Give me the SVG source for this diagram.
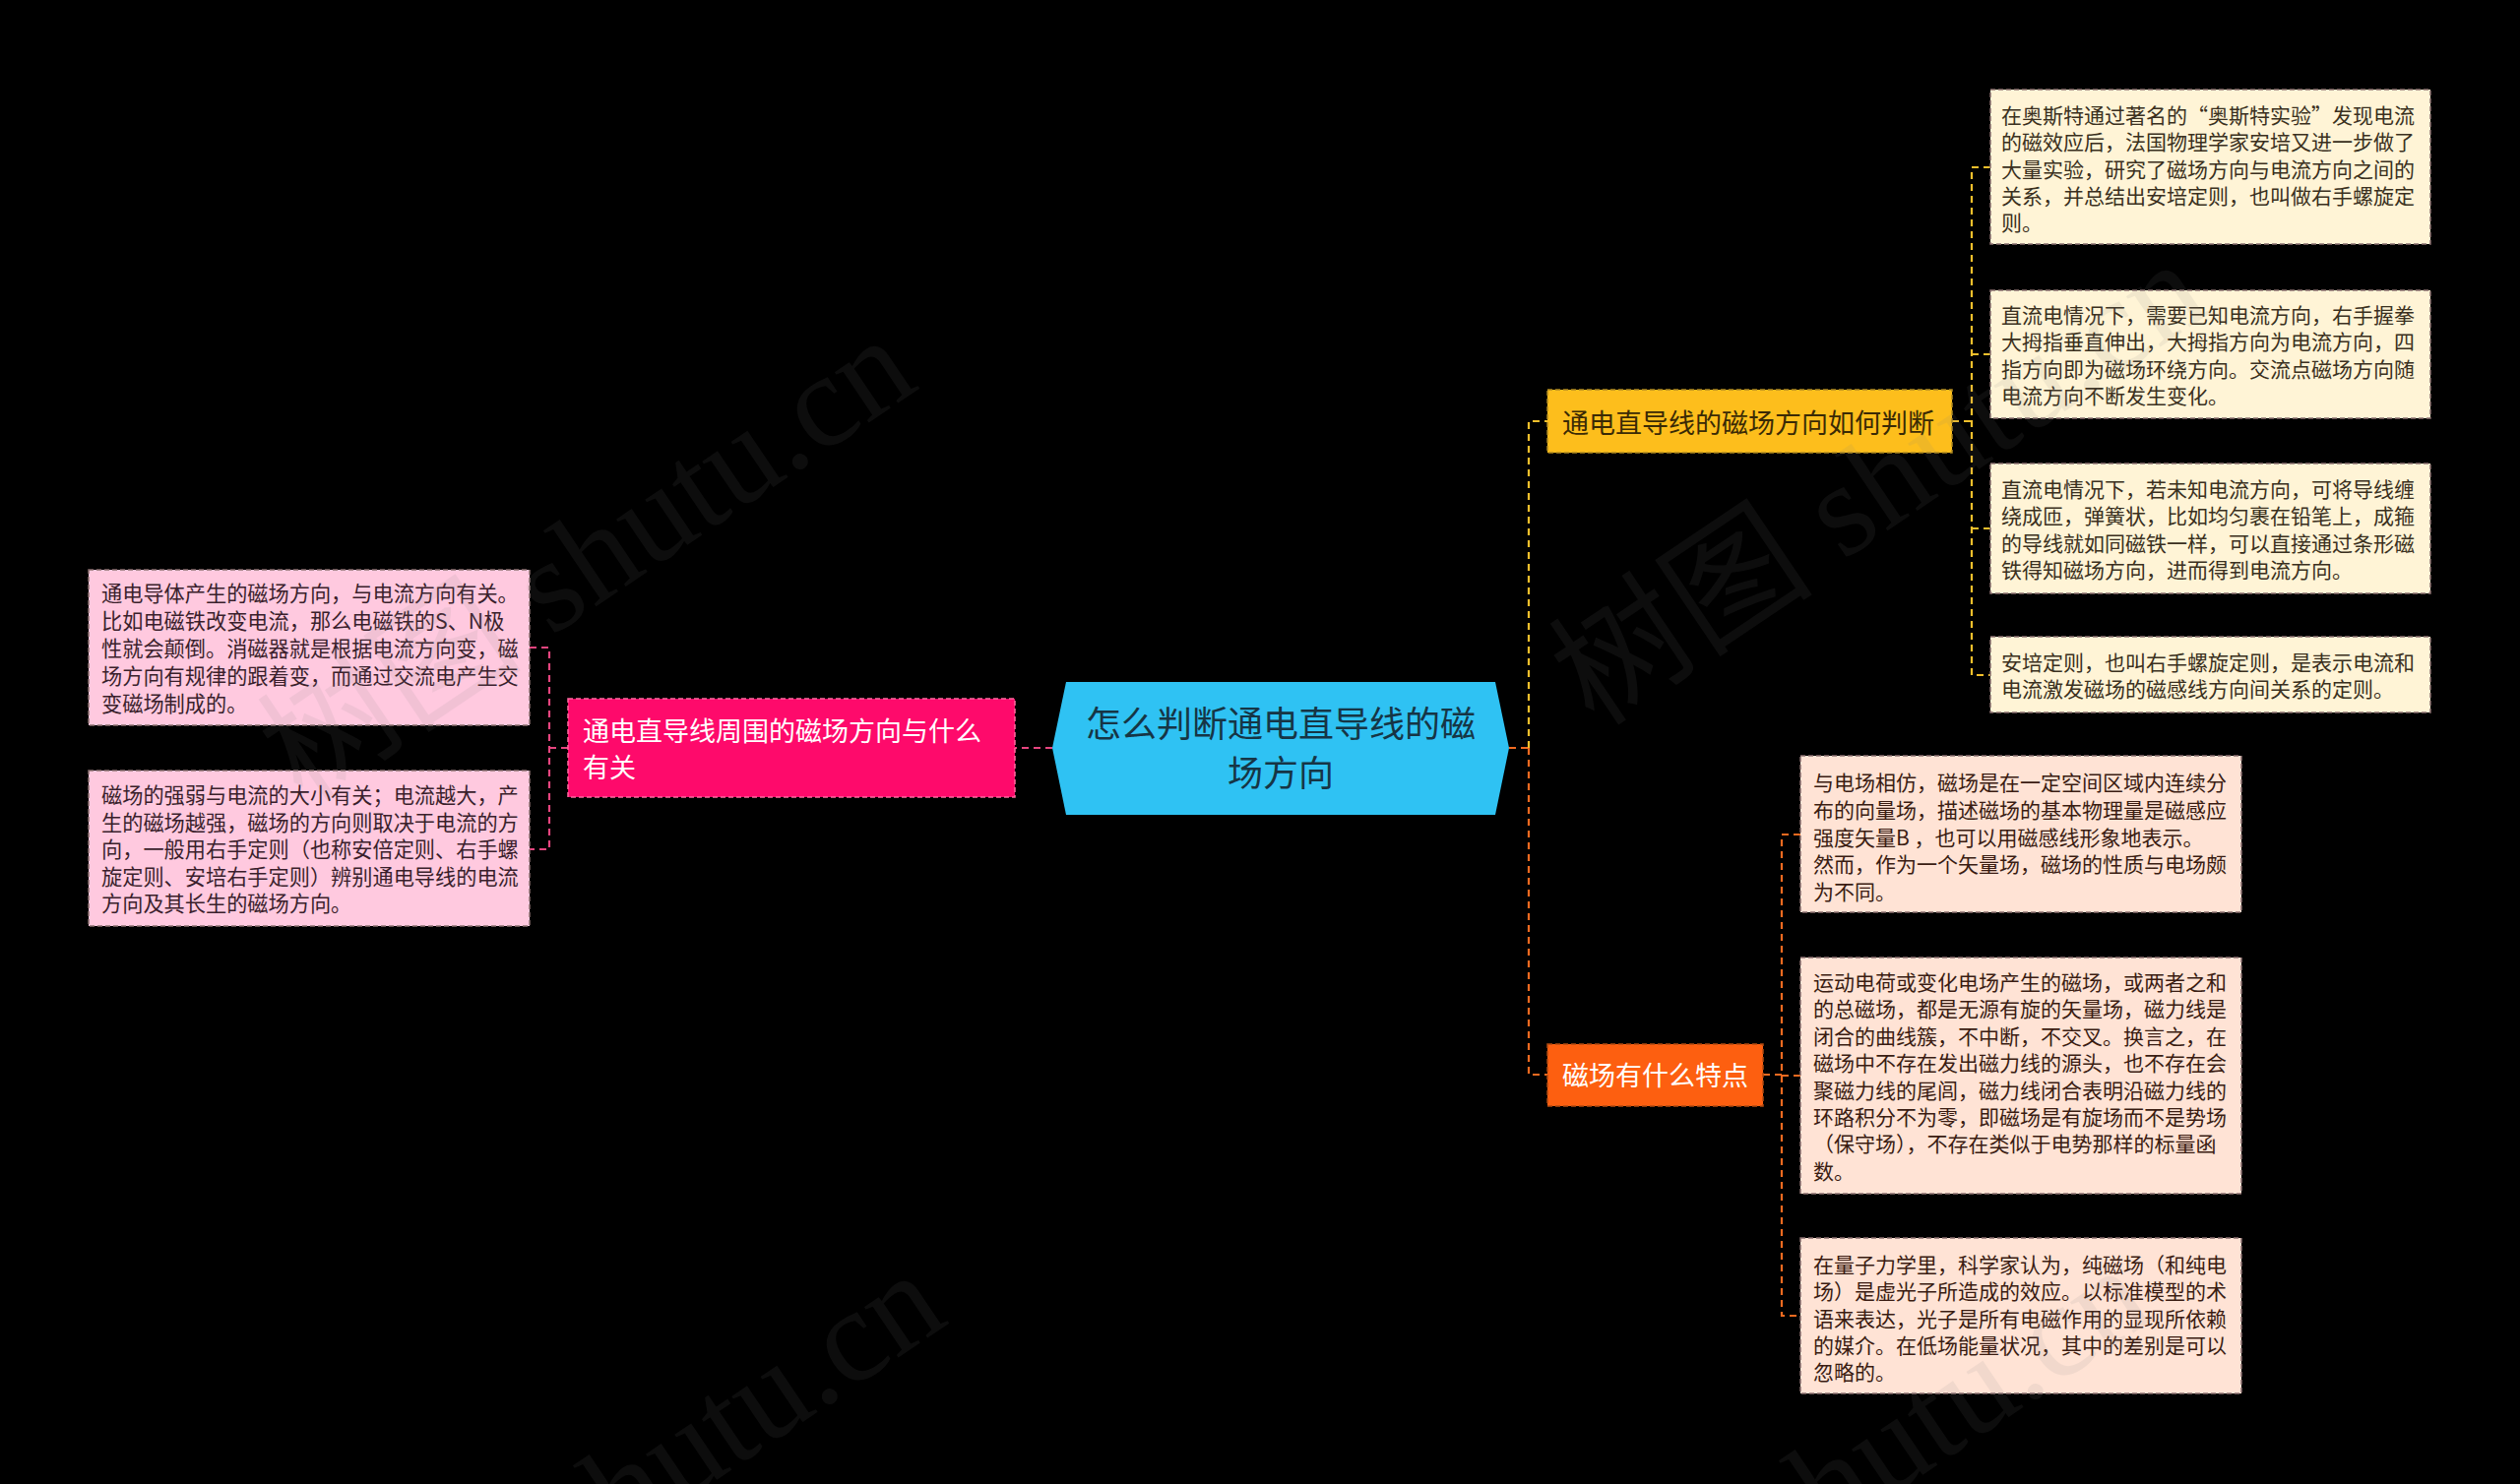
<svg xmlns="http://www.w3.org/2000/svg" width="2560" height="1508" viewBox="0 0 2560 1508">
<style>
.t{font-family:"Noto Sans CJK SC","Noto Sans",sans-serif;}
.leafL{font-size:21.2px;fill:#3a1f2c;}
.leafY{font-size:21px;fill:#3a3020;}
.leafP{font-size:21px;fill:#3a1c12;}
.br{font-size:27px;}
.c{fill:none;stroke-width:2.2;stroke-dasharray:7 5;}
.cp{stroke:#e6457f;}
.cy{stroke:#f4c02c;}
.co{stroke:#f06a20;}
.lb{stroke:#8a7070;stroke-width:1.5;stroke-dasharray:5 3;}
.wm{font-family:"Liberation Serif","Noto Sans CJK SC",serif;font-size:135px;fill:#808080;opacity:0.1;}
</style>
<rect x="0" y="0" width="2560" height="1508" fill="#000"/>
<g id="connectors">
<path class="c cp" d="M1069,760 H1031"/>
<path class="c cp" d="M577,760 H558 M538,658 H558 V863 H538"/>
<path class="c co" d="M1533,760 H1553"/>
<path class="c cy" d="M1553,760 V428 H1572"/>
<path class="c co" d="M1553,760 V1092 H1572"/>
<path class="c cy" d="M1983,428 H2003 M2022,170 H2003 V686 H2022 M2003,360 H2022 M2003,537 H2022"/>
<path class="c co" d="M1791,1092 H1810 M1829,848 H1810 V1337 H1829 M1810,1093 H1829"/>
</g>
<g id="root">
<polygon points="1069,760 1083,693 1519,693 1533,760 1519,828 1083,828" fill="#2fc2f3"/>
<text class="t" x="1301" y="749" font-size="36" fill="#163545" text-anchor="middle">怎么判断通电直导线的磁</text>
<text class="t" x="1301" y="799" font-size="36" fill="#163545" text-anchor="middle">场方向</text>
</g>
<g id="branch-left">
<rect x="577" y="710" width="454" height="100" fill="#fe0a6b" stroke="#ff6aa0" stroke-width="1.5" stroke-dasharray="5 3"/>
<text class="t br" x="592" y="753" fill="#fff">通电直导线周围的磁场方向与什么</text>
<text class="t br" x="592" y="790" fill="#fff">有关</text>
</g>
<g id="leaf-l1">
<rect x="90" y="579" width="448" height="158" fill="#ffc9df" class="lb"/>
<text class="t leafL" x="103" y="611">通电导体产生的磁场方向，与电流方向有关。</text>
<text class="t leafL" x="103" y="639">比如电磁铁改变电流，那么电磁铁的S、N极</text>
<text class="t leafL" x="103" y="667">性就会颠倒。消磁器就是根据电流方向变，磁</text>
<text class="t leafL" x="103" y="695">场方向有规律的跟着变，而通过交流电产生交</text>
<text class="t leafL" x="103" y="723">变磁场制成的。</text>
</g>
<g id="leaf-l2">
<rect x="90" y="783" width="448" height="158" fill="#ffc9df" class="lb"/>
<text class="t leafL" x="103" y="816">磁场的强弱与电流的大小有关；电流越大，产</text>
<text class="t leafL" x="103" y="843.5">生的磁场越强，磁场的方向则取决于电流的方</text>
<text class="t leafL" x="103" y="871">向，一般用右手定则（也称安倍定则、右手螺</text>
<text class="t leafL" x="103" y="898.5">旋定则、安培右手定则）辨别通电导线的电流</text>
<text class="t leafL" x="103" y="926">方向及其长生的磁场方向。</text>
</g>
<g id="branch-yellow">
<rect x="1572" y="396" width="411" height="64" fill="#fdbe1c" stroke="#b08a20" stroke-width="1.5" stroke-dasharray="5 3"/>
<text class="t br" x="1587" y="440" fill="#3a2a05">通电直导线的磁场方向如何判断</text>
</g>
<g id="leaf-y1">
<rect x="2022" y="91" width="447" height="157" fill="#fff4d6" class="lb"/>
<text class="t leafY" x="2033" y="125">在奥斯特通过著名的“奥斯特实验”发现电流</text>
<text class="t leafY" x="2033" y="152.3">的磁效应后，法国物理学家安培又进一步做了</text>
<text class="t leafY" x="2033" y="179.6">大量实验，研究了磁场方向与电流方向之间的</text>
<text class="t leafY" x="2033" y="206.9">关系，并总结出安培定则，也叫做右手螺旋定</text>
<text class="t leafY" x="2033" y="234.2">则。</text>
</g>
<g id="leaf-y2">
<rect x="2022" y="295" width="447" height="130" fill="#fff4d6" class="lb"/>
<text class="t leafY" x="2033" y="328">直流电情况下，需要已知电流方向，右手握拳</text>
<text class="t leafY" x="2033" y="355.3">大拇指垂直伸出，大拇指方向为电流方向，四</text>
<text class="t leafY" x="2033" y="382.6">指方向即为磁场环绕方向。交流点磁场方向随</text>
<text class="t leafY" x="2033" y="410">电流方向不断发生变化。</text>
</g>
<g id="leaf-y3">
<rect x="2022" y="471" width="447" height="132" fill="#fff4d6" class="lb"/>
<text class="t leafY" x="2033" y="505">直流电情况下，若未知电流方向，可将导线缠</text>
<text class="t leafY" x="2033" y="532.3">绕成匝，弹簧状，比如均匀裹在铅笔上，成箍</text>
<text class="t leafY" x="2033" y="559.6">的导线就如同磁铁一样，可以直接通过条形磁</text>
<text class="t leafY" x="2033" y="587">铁得知磁场方向，进而得到电流方向。</text>
</g>
<g id="leaf-y4">
<rect x="2022" y="647" width="447" height="77" fill="#fff4d6" class="lb"/>
<text class="t leafY" x="2033" y="681">安培定则，也叫右手螺旋定则，是表示电流和</text>
<text class="t leafY" x="2033" y="708.3">电流激发磁场的磁感线方向间关系的定则。</text>
</g>
<g id="branch-orange">
<rect x="1572" y="1061" width="219" height="63" fill="#fd5f10" stroke="#b04a10" stroke-width="1.5" stroke-dasharray="5 3"/>
<text class="t br" x="1587" y="1103" fill="#fff">磁场有什么特点</text>
</g>
<g id="leaf-o1">
<rect x="1829" y="768" width="448" height="159" fill="#ffe3d5" class="lb"/>
<text class="t leafP" x="1842" y="803">与电场相仿，磁场是在一定空间区域内连续分</text>
<text class="t leafP" x="1842" y="830.8">布的向量场，描述磁场的基本物理量是磁感应</text>
<text class="t leafP" x="1842" y="858.6">强度矢量B ，也可以用磁感线形象地表示。</text>
<text class="t leafP" x="1842" y="886.4">然而，作为一个矢量场，磁场的性质与电场颇</text>
<text class="t leafP" x="1842" y="914.2">为不同。</text>
</g>
<g id="leaf-o2">
<rect x="1829" y="973" width="448" height="240" fill="#ffe3d5" class="lb"/>
<text class="t leafP" x="1842" y="1006">运动电荷或变化电场产生的磁场，或两者之和</text>
<text class="t leafP" x="1842" y="1033.4">的总磁场，都是无源有旋的矢量场，磁力线是</text>
<text class="t leafP" x="1842" y="1060.8">闭合的曲线簇，不中断，不交叉。换言之，在</text>
<text class="t leafP" x="1842" y="1088.2">磁场中不存在发出磁力线的源头，也不存在会</text>
<text class="t leafP" x="1842" y="1115.6">聚磁力线的尾闾，磁力线闭合表明沿磁力线的</text>
<text class="t leafP" x="1842" y="1143">环路积分不为零，即磁场是有旋场而不是势场</text>
<text class="t leafP" x="1842" y="1170.4">（保守场），不存在类似于电势那样的标量函</text>
<text class="t leafP" x="1842" y="1197.8">数。</text>
</g>
<g id="leaf-o3">
<rect x="1829" y="1258" width="448" height="158" fill="#ffe3d5" class="lb"/>
<text class="t leafP" x="1842" y="1293">在量子力学里，科学家认为，纯磁场（和纯电</text>
<text class="t leafP" x="1842" y="1320.3">场）是虚光子所造成的效应。以标准模型的术</text>
<text class="t leafP" x="1842" y="1347.6">语来表达，光子是所有电磁作用的显现所依赖</text>
<text class="t leafP" x="1842" y="1374.9">的媒介。在低场能量状况，其中的差别是可以</text>
<text class="t leafP" x="1842" y="1402.2">忽略的。</text>
</g>
<g id="watermarks">
<text class="wm" transform="translate(308,817) rotate(-34)">树图 shutu.cn</text>
<text class="wm" transform="translate(1620,740) rotate(-34)">树图 shutu.cn</text>
<text class="wm" transform="translate(338,1767) rotate(-34)">树图 shutu.cn</text>
<text class="wm" transform="translate(1563,1762) rotate(-34)">树图 shutu.cn</text>
</g>
</svg>
